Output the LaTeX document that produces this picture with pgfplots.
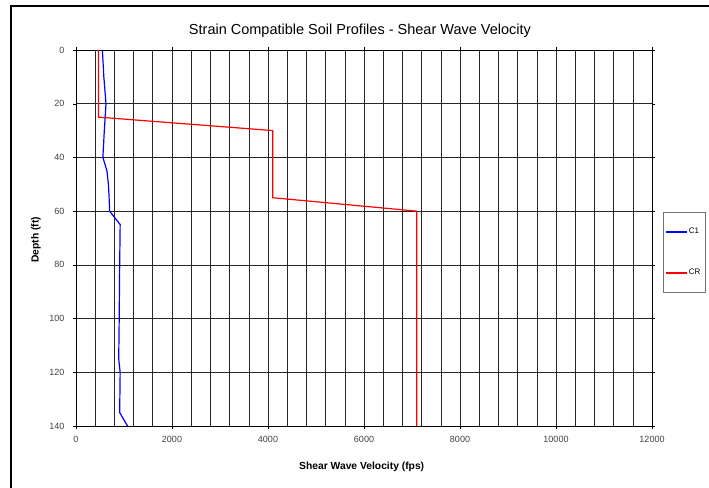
\documentclass[border=0pt]{standalone}
\usepackage{pgfplots}
\pgfplotsset{compat=1.18}
\usepackage{fontspec}
\setmainfont{Liberation Sans}
\definecolor{cblue}{RGB}{0,0,255}
\definecolor{cred}{RGB}{255,0,0}
\begin{document}
\begin{tikzpicture}
\path[use as bounding box] (-76pt,-61pt) rectangle (633pt,426pt);
\draw[line width=1.8pt] (-65pt,-80pt) -- (-65pt,420pt) -- (700pt,420pt);
\begin{axis}[
  name=ax, at={(0pt,0pt)}, anchor=south west,
  scale only axis,
  width=576pt, height=376pt,
  xmin=0, xmax=12000, ymin=0, ymax=140,
  y dir=reverse,
  xtick={0,2000,...,12000},
  ytick={0,20,...,140},
  minor x tick num=4,
  grid=both,
  major grid style={black!85, line width=0.6pt},
  minor grid style={black!85, line width=0.6pt},
  axis line style={black, line width=0.8pt},
  tick align=outside,
  major tick length=3pt,
  minor tick length=0pt,
  tick style={black},
  scaled ticks=false,
  /pgf/number format/set thousands separator={},
  /pgf/number format/assume math mode=true,
  tick label style={font=\fontsize{9}{10}\selectfont, text=black!75},
  xticklabel style={yshift=-4pt},
  yticklabel style={xshift=-5pt},
  xlabel={\textbf{Shear Wave Velocity (fps)}},
  ylabel={\textbf{Depth (ft)}},
  label style={font=\fontsize{10.3}{12}\selectfont},
  xlabel style={at={(axis description cs:0.496,0)}, anchor=base, yshift=-43pt},
  ylabel style={at={(axis description cs:-0.0694,0.495)}, anchor=center, rotate=0},
  title={Strain Compatible Soil Profiles - Shear Wave Velocity},
  title style={font=\fontsize{14.5}{16}\selectfont, at={(axis description cs:0.493,1)}, anchor=base, yshift=9pt},
  legend style={at={(axis description cs:1.019,0.570)}, anchor=north west,
    draw=black!55, line width=0.6pt, font=\fontsize{8}{9}\selectfont, text=black,
    inner xsep=3pt, inner ysep=14pt, row sep=30pt},
  legend cell align=left,
]
\addlegendimage{legend image code/.code={\fill[cblue] (0pt,-0.6pt) rectangle (20pt,0.6pt);}}
\addlegendentry{C1}
\addlegendimage{legend image code/.code={\fill[cred] (0pt,-0.6pt) rectangle (20pt,0.6pt);}}
\addlegendentry{CR}
\addplot[forget plot, cblue, line width=1.2pt] coordinates {
 (550,0) (580,10) (625,20) (590,30) (560,40) (645,45) (675,50) (690,55) (700,60)
 (920,65) (910,80) (900,100) (890,115) (920,120) (910,135) (1075,140)
};
\addplot[forget plot, cred, line width=1.2pt] coordinates {
 (470,0) (470,25) (4100,30) (4100,55) (7100,60) (7100,140)
};
\end{axis}
\end{tikzpicture}
\end{document}
